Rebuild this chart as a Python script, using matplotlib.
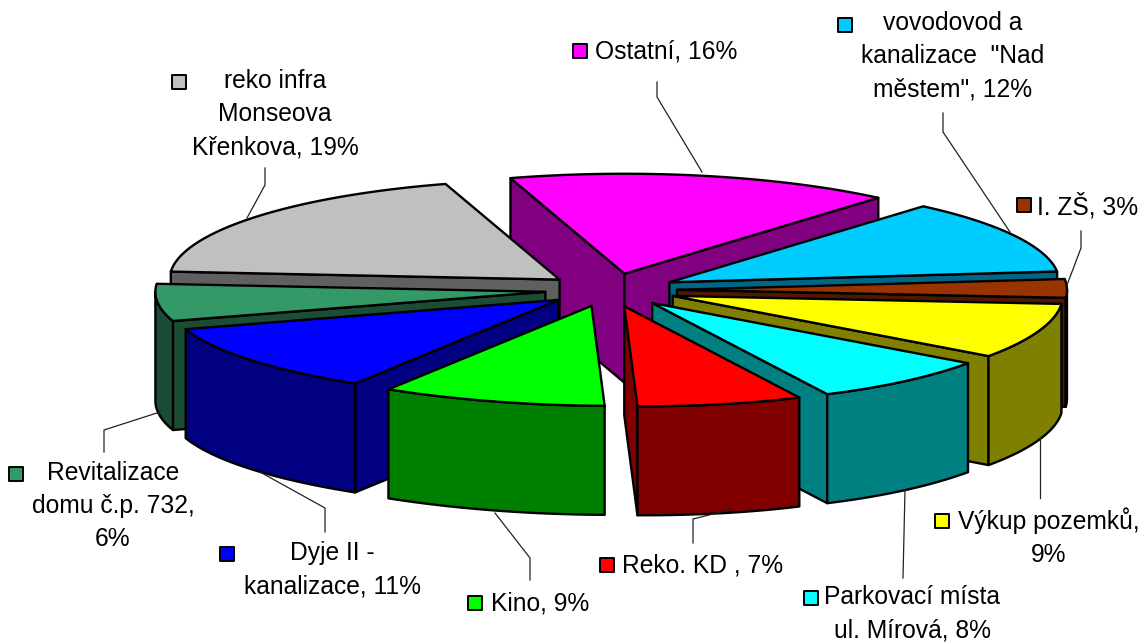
# plot.py
# exploded 3D pie chart, drawn by hand because matplotlib has no 3D pie
import numpy as np
import matplotlib
matplotlib.use('Agg')
import matplotlib.pyplot as plt

# slices clockwise, starting from the back
names = ['Ostatní', 'vovodovod', 'I. ZŠ', 'Výkup', 'Parkovací', 'Reko KD',
         'Kino', 'Dyje', 'Revitalizace', 'reko infra']
values = [16, 12, 3, 9, 8, 7, 9, 11, 6, 19]
top_colors = ['#FF00FF', '#00CCFF', '#993300', '#FFFF00', '#00FFFF', '#FF0000',
              '#00FF00', '#0000FF', '#339966', '#C0C0C0']
side_colors = ['#800080', '#006685', '#4D1A00', '#808000', '#008080', '#800000',
               '#008000', '#000080', '#1A4D33', '#606060']

# label text, legend key and text anchor
labels = ['Ostatní, 16%', 'vovodovod a\nkanalizace  "Nad\nměstem", 12%', 'I. ZŠ, 3%',
          'Výkup pozemků,\n9%', 'Parkovací místa\nul. Mírová, 8%', 'Reko. KD , 7%',
          'Kino, 9%', 'Dyje II -\nkanalizace, 11%', 'Revitalizace\ndomu č.p. 732,\n6%',
          'reko infra\nMonseova\nKřenkova, 19%']
label_x = [666, 953, 1088, 1049, 912, 703, 540, 332, 113, 275]
label_y = [52, 56, 206, 537, 614, 566, 603, 570, 506, 114]
key_x = [580, 845, 1024, 942, 811, 607, 475, 227, 16, 179]
key_y = [51, 25, 205, 521, 598, 565, 603, 554, 474, 82]

leaders = [
    ([657, 657, 702], [82, 97, 172]),
    ([943, 943, 1010], [113, 132, 232]),
    ([1081, 1081, 1067], [231, 248, 285]),
    ([1040, 1040], [437, 498]),
    ([905, 903], [490, 578]),
    ([733, 693, 693], [509, 519, 543]),
    ([495, 530, 530], [513, 558, 580]),
    ([260, 325, 325], [472, 508, 532]),
    ([160, 104, 104], [412, 430, 452]),
    ([247, 265, 265], [218, 185, 168]),
]

# geometry of the pie in pixels
cx, cy = 611, 290
rx, ry = 390, 100
explode_x, explode_y = 66, 16.6
depth = 109
start = -17

plt.rcParams['font.family'] = ['Liberation Sans', 'DejaVu Sans']
fig = plt.figure(figsize=(11.45, 6.42), dpi=100)
ax = fig.add_axes([0, 0, 1, 1])
ax.set_xlim(0, 1145)
ax.set_ylim(642, 0)
ax.axis('off')


def rim(apex, deg):
    # point on the outer edge, front of the pie leans a bit to the right
    t = np.radians(deg)
    dy = -ry * np.cos(t)
    lean = 20 * np.clip(dy / ry, 0, 1) ** 3
    return apex[0] + rx * np.sin(t) + lean, apex[1] + dy


def wall(xs, ys):
    return list(xs) + list(xs)[::-1], list(ys) + [y + depth for y in ys][::-1]


edges = start + np.cumsum([0] + values) * 3.6
mids = (edges[:-1] + edges[1:]) / 2
order = np.argsort(-np.cos(np.radians(mids)))

for i in order:
    a, b, m = edges[i], edges[i + 1], np.radians(mids[i])
    apex = (cx + explode_x * np.sin(m), cy - explode_y * np.cos(m))
    style = dict(edgecolor='black', linewidth=1.7, joinstyle='round')

    # cut walls: the first one shows if it runs left of the apex, the second if right
    x, y = rim(apex, a)
    if x < apex[0]:
        px, py = wall([apex[0], x], [apex[1], y])
        ax.fill(px, py, facecolor=side_colors[i], **style)
    x, y = rim(apex, b)
    if x > apex[0]:
        px, py = wall([apex[0], x], [apex[1], y])
        ax.fill(px, py, facecolor=side_colors[i], **style)

    # outer wall, only the part that faces the viewer
    lo, hi = max(a, 90), min(b, 270)
    if lo < hi:
        x, y = rim(apex, np.linspace(lo, hi, 60))
        px, py = wall(x, y)
        ax.fill(px, py, facecolor=side_colors[i], **style)

    # top face
    x, y = rim(apex, np.linspace(a, b, 80))
    ax.fill([apex[0]] + list(x), [apex[1]] + list(y), facecolor=top_colors[i], **style)

for xs, ys in leaders:
    ax.plot(xs, ys, color='#222222', linewidth=0.9)

for i in range(len(labels)):
    ax.text(label_x[i], label_y[i], labels[i], fontsize=17.7, ha='center', va='center',
            ma='center', linespacing=1.5, color='black')
    ax.scatter(key_x[i], key_y[i], marker='s', s=105, facecolor=top_colors[i],
               edgecolor='black', linewidth=1.4, zorder=5)

fig.savefig('out.png', dpi=100)
